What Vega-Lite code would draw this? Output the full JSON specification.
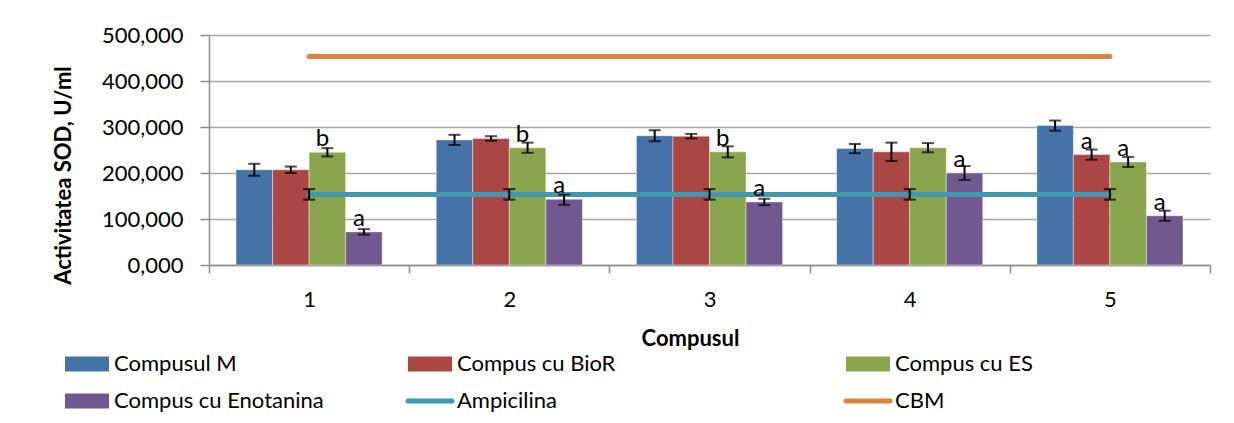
{
  "$schema": "https://vega.github.io/schema/vega-lite/v6.json",
  "width": 1001,
  "height": 230,
  "autosize": {"type": "none"},
  "padding": {"left": 209, "top": 35, "right": 24, "bottom": 158},
  "config": {
    "font": "Lato",
    "view": {"stroke": null},
    "legend": {"padding": 0}
  },
  "datasets": {
    "bars": [
      {"cat": "1", "series": "Compusul M", "v": 207, "lo": 194, "hi": 220, "lbl": ""},
      {"cat": "1", "series": "Compus cu BioR", "v": 207, "lo": 200, "hi": 214, "lbl": ""},
      {"cat": "1", "series": "Compus cu ES", "v": 245, "lo": 236, "hi": 254, "lbl": "b"},
      {"cat": "1", "series": "Compus cu Enotanina", "v": 72, "lo": 66, "hi": 78, "lbl": "a"},
      {"cat": "2", "series": "Compusul M", "v": 272, "lo": 261, "hi": 283, "lbl": ""},
      {"cat": "2", "series": "Compus cu BioR", "v": 275, "lo": 270, "hi": 280, "lbl": ""},
      {"cat": "2", "series": "Compus cu ES", "v": 255, "lo": 244, "hi": 266, "lbl": "b"},
      {"cat": "2", "series": "Compus cu Enotanina", "v": 143, "lo": 131, "hi": 153, "lbl": "a"},
      {"cat": "3", "series": "Compusul M", "v": 281, "lo": 269, "hi": 293, "lbl": ""},
      {"cat": "3", "series": "Compus cu BioR", "v": 280, "lo": 275, "hi": 285, "lbl": ""},
      {"cat": "3", "series": "Compus cu ES", "v": 246, "lo": 234, "hi": 258, "lbl": "b"},
      {"cat": "3", "series": "Compus cu Enotanina", "v": 137, "lo": 130, "hi": 144, "lbl": "a"},
      {"cat": "4", "series": "Compusul M", "v": 253, "lo": 243, "hi": 263, "lbl": ""},
      {"cat": "4", "series": "Compus cu BioR", "v": 246, "lo": 226, "hi": 266, "lbl": ""},
      {"cat": "4", "series": "Compus cu ES", "v": 255, "lo": 245, "hi": 265, "lbl": ""},
      {"cat": "4", "series": "Compus cu Enotanina", "v": 200, "lo": 185, "hi": 215, "lbl": "a"},
      {"cat": "5", "series": "Compusul M", "v": 303, "lo": 292, "hi": 314, "lbl": ""},
      {"cat": "5", "series": "Compus cu BioR", "v": 240, "lo": 229, "hi": 251, "lbl": "a"},
      {"cat": "5", "series": "Compus cu ES", "v": 224, "lo": 213, "hi": 235, "lbl": "a"},
      {"cat": "5", "series": "Compus cu Enotanina", "v": 107, "lo": 96, "hi": 118, "lbl": "a"}
    ],
    "lines": [
      {"cat": "1", "series": "Ampicilina", "v": 153, "lo": 142, "hi": 165},
      {"cat": "2", "series": "Ampicilina", "v": 153, "lo": 142, "hi": 165},
      {"cat": "3", "series": "Ampicilina", "v": 153, "lo": 142, "hi": 165},
      {"cat": "4", "series": "Ampicilina", "v": 153, "lo": 142, "hi": 165},
      {"cat": "5", "series": "Ampicilina", "v": 153, "lo": 142, "hi": 165},
      {"cat": "1", "series": "CBM", "v": 453.5, "lo": 452.5, "hi": 454.5},
      {"cat": "2", "series": "CBM", "v": 453.5, "lo": 452.5, "hi": 454.5},
      {"cat": "3", "series": "CBM", "v": 453.5, "lo": 452.5, "hi": 454.5},
      {"cat": "4", "series": "CBM", "v": 453.5, "lo": 452.5, "hi": 454.5},
      {"cat": "5", "series": "CBM", "v": 453.5, "lo": 452.5, "hi": 454.5}
    ]
  },
  "encoding": {
    "x": {
      "field": "cat",
      "type": "nominal",
      "scale": {"paddingInner": 0, "paddingOuter": 0},
      "title": "Compusul",
      "axis": {
        "tickBand": "extent",
        "labelAngle": 0,
        "labelFontSize": 22,
        "labelColor": "black",
        "labelPadding": 16,
        "tickSize": 8,
        "tickColor": "#8c8c8c",
        "tickWidth": 1.5,
        "domainColor": "#8c8c8c",
        "domainWidth": 1.5,
        "titleFontSize": 22,
        "titleFontWeight": "bold",
        "titleColor": "black",
        "titleX": 481,
        "titleY": 80,
        "titleBaseline": "alphabetic"
      }
    }
  },
  "layer": [
    {
      "data": {"name": "bars"},
      "mark": {"type": "bar", "stroke": "white", "strokeWidth": 0.7, "strokeOpacity": 0.6},
      "encoding": {
        "xOffset": {"field": "series", "type": "nominal", "scale": {"domain": ["Compusul M", "Compus cu BioR", "Compus cu ES", "Compus cu Enotanina"], "paddingInner": 0, "paddingOuter": 0.74}},
        "y": {
          "field": "v",
          "type": "quantitative",
          "scale": {"domain": [0, 500]},
          "title": "Activitatea SOD, U/ml",
          "axis": {
            "values": [0, 100, 200, 300, 400, 500],
            "labelExpr": "replace(format(datum.value, '.3f'), '.', ',')",
            "labelFontSize": 22,
            "labelColor": "black",
            "labelPadding": 17,
            "tickSize": 9,
            "tickColor": "#8c8c8c",
            "tickWidth": 1.5,
            "domainColor": "#8c8c8c",
            "domainWidth": 1.5,
            "gridColor": "#a6a6a6",
            "gridWidth": 1.5,
            "titleFontSize": 22,
            "titleFontWeight": "bold",
            "titleColor": "black",
            "titleAngle": -90,
            "titleX": -146,
            "titleY": 140,
            "titleBaseline": "middle"
          }
        },
        "color": {
          "field": "series",
          "type": "nominal",
          "scale": {
            "domain": ["Compusul M", "Compus cu BioR", "Compus cu ES", "Compus cu Enotanina", "Ampicilina", "CBM"],
            "range": ["#4572A7", "#AA4643", "#89A54E", "#71588F", "#4198AF", "#DB843D"]
          },
          "legend": {
            "title": null,
            "orient": "none",
            "legendX": -133,
            "legendY": 318,
            "direction": "horizontal",
            "columns": 3,
            "columnPadding": 74,
            "rowPadding": 15,
            "labelFontSize": 22,
            "labelColor": "black",
            "labelOffset": 16,
            "labelLimit": 800,
            "symbolSize": 1936,
            "symbolStrokeWidth": 0,
            "encode": {
              "labels": {
                "update": {
                  "text": {"signal": "datum.value == 'Compus cu BioR' ? '\u00a0Compus cu BioR\u00a0\u00a0\u00a0\u00a0\u00a0\u00a0\u00a0\u00a0\u00a0\u00a0\u00a0\u00a0\u00a0\u00a0\u00a0\u00a0\u00a0\u00a0\u00a0\u00a0\u00a0\u00a0\u00a0\u00a0\u00a0\u00a0\u200b' : datum.label"}
                }
              },
              "symbols": {
                "update": {
                  "shape": {"signal": "indexof(['Ampicilina','CBM'], datum.value) >= 0 ? 'M-1,0H1' : 'M-1,-0.34H1V0.34H-1Z'"},
                  "fill": {"signal": "indexof(['Ampicilina','CBM'], datum.value) >= 0 ? 'transparent' : scale('color', datum.value)"},
                  "stroke": {"signal": "indexof(['Ampicilina','CBM'], datum.value) >= 0 ? scale('color', datum.value) : 'transparent'"},
                  "strokeWidth": {"signal": "indexof(['Ampicilina','CBM'], datum.value) >= 0 ? 5 : 0"},
                  "strokeCap": {"value": "round"},
                  "size": {"value": 1936},
                  "opacity": {"value": 1}
                }
              }
            }
          }
        }
      }
    },
    {
      "data": {"name": "lines"},
      "mark": {"type": "line", "strokeWidth": 5, "strokeCap": "round"},
      "encoding": {
        "y": {"field": "v", "type": "quantitative", "title": "Activitatea SOD, U/ml"},
        "color": {
          "field": "series",
          "type": "nominal",
          "legend": {
            "title": null,
            "orient": "none",
            "legendX": -133,
            "legendY": 318,
            "direction": "horizontal",
            "columns": 3,
            "columnPadding": 74,
            "rowPadding": 15,
            "labelFontSize": 22,
            "labelColor": "black",
            "labelOffset": 16,
            "labelLimit": 800,
            "symbolSize": 1936,
            "symbolStrokeWidth": 0,
            "encode": {
              "labels": {
                "update": {
                  "text": {"signal": "datum.value == 'Compus cu BioR' ? '\u00a0Compus cu BioR\u00a0\u00a0\u00a0\u00a0\u00a0\u00a0\u00a0\u00a0\u00a0\u00a0\u00a0\u00a0\u00a0\u00a0\u00a0\u00a0\u00a0\u00a0\u00a0\u00a0\u00a0\u00a0\u00a0\u00a0\u00a0\u00a0\u200b' : datum.label"}
                }
              },
              "symbols": {
                "update": {
                  "shape": {"signal": "indexof(['Ampicilina','CBM'], datum.value) >= 0 ? 'M-1,0H1' : 'M-1,-0.34H1V0.34H-1Z'"},
                  "fill": {"signal": "indexof(['Ampicilina','CBM'], datum.value) >= 0 ? 'transparent' : scale('color', datum.value)"},
                  "stroke": {"signal": "indexof(['Ampicilina','CBM'], datum.value) >= 0 ? scale('color', datum.value) : 'transparent'"},
                  "strokeWidth": {"signal": "indexof(['Ampicilina','CBM'], datum.value) >= 0 ? 5 : 0"},
                  "strokeCap": {"value": "round"},
                  "size": {"value": 1936},
                  "opacity": {"value": 1}
                }
              }
            }
          }
        },
        "detail": {"field": "series"}
      }
    },
    {
      "data": {"name": "bars"},
      "mark": {"type": "rule", "color": "black", "strokeWidth": 2},
      "encoding": {
        "xOffset": {"field": "series", "type": "nominal", "scale": {"domain": ["Compusul M", "Compus cu BioR", "Compus cu ES", "Compus cu Enotanina"], "paddingInner": 0, "paddingOuter": 0.74}},
        "y": {"field": "lo", "type": "quantitative", "title": "Activitatea SOD, U/ml"},
        "y2": {"field": "hi"}
      }
    },
    {
      "data": {"name": "bars"},
      "mark": {"type": "tick", "color": "black", "size": 12, "thickness": 2},
      "encoding": {
        "xOffset": {"field": "series", "type": "nominal", "scale": {"domain": ["Compusul M", "Compus cu BioR", "Compus cu ES", "Compus cu Enotanina"], "paddingInner": 0, "paddingOuter": 0.74}},
        "y": {"field": "lo", "type": "quantitative", "title": "Activitatea SOD, U/ml"}
      }
    },
    {
      "data": {"name": "bars"},
      "mark": {"type": "tick", "color": "black", "size": 12, "thickness": 2},
      "encoding": {
        "xOffset": {"field": "series", "type": "nominal", "scale": {"domain": ["Compusul M", "Compus cu BioR", "Compus cu ES", "Compus cu Enotanina"], "paddingInner": 0, "paddingOuter": 0.74}},
        "y": {"field": "hi", "type": "quantitative", "title": "Activitatea SOD, U/ml"}
      }
    },
    {
      "data": {"name": "lines"},
      "transform": [{"filter": "datum.series == 'Ampicilina'"}],
      "mark": {"type": "rule", "color": "black", "strokeWidth": 2},
      "encoding": {
        "y": {"field": "lo", "type": "quantitative", "title": "Activitatea SOD, U/ml"},
        "y2": {"field": "hi"}
      }
    },
    {
      "data": {"name": "lines"},
      "transform": [{"filter": "datum.series == 'Ampicilina'"}],
      "mark": {"type": "tick", "color": "black", "size": 12, "thickness": 2},
      "encoding": {
        "y": {"field": "lo", "type": "quantitative", "title": "Activitatea SOD, U/ml"}
      }
    },
    {
      "data": {"name": "lines"},
      "transform": [{"filter": "datum.series == 'Ampicilina'"}],
      "mark": {"type": "tick", "color": "black", "size": 12, "thickness": 2},
      "encoding": {
        "y": {"field": "hi", "type": "quantitative", "title": "Activitatea SOD, U/ml"}
      }
    },
    {
      "data": {"name": "bars"},
      "mark": {"type": "text", "fontSize": 24, "dy": -6, "dx": -5, "baseline": "alphabetic", "color": "black"},
      "encoding": {
        "xOffset": {"field": "series", "type": "nominal", "scale": {"domain": ["Compusul M", "Compus cu BioR", "Compus cu ES", "Compus cu Enotanina"], "paddingInner": 0, "paddingOuter": 0.74}},
        "y": {"field": "v", "type": "quantitative", "title": "Activitatea SOD, U/ml"},
        "text": {"field": "lbl"}
      }
    }
  ]
}
